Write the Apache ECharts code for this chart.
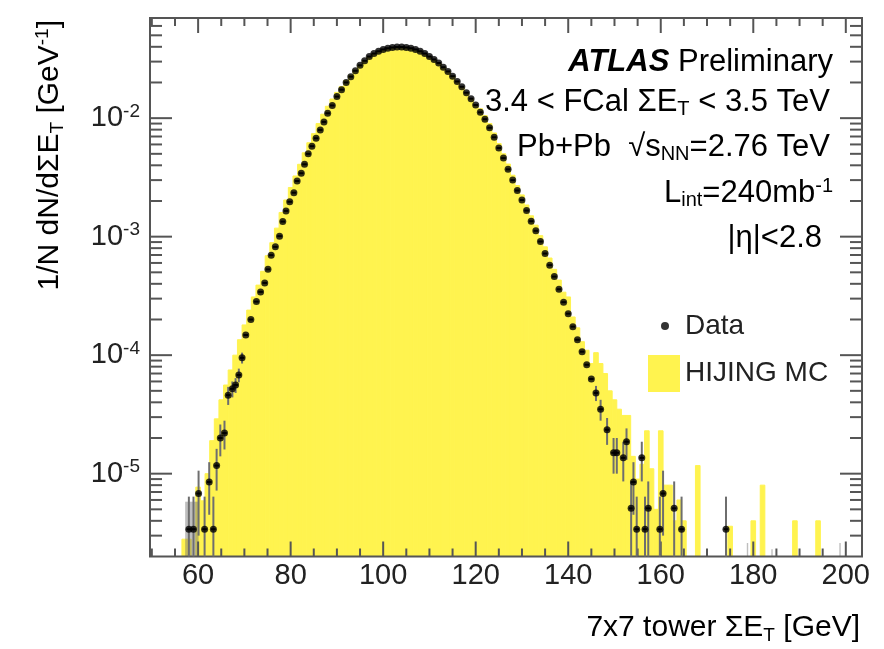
<!DOCTYPE html>
<html><head><meta charset="utf-8">
<script src="https://cdn.jsdelivr.net/npm/echarts@6/dist/echarts.min.js"></script>
<style>html,body{margin:0;padding:0;background:#fff}#c{width:884px;height:649px}</style>
</head><body><div id="c"></div>
<script>
// ---- axis ranges & ticks ----
const xMin = 49.6, xMax = 203.5, yMin = 2e-6, yMax = 0.07;
const xLabels = [60, 80, 100, 120, 140, 160, 180, 200];
const xMinorTicks = [50,55,65,70,75,85,90,95,105,110,115,125,130,135,145,150,155,165,170,175,185,190,195];
const yLabels = [1e-5, 1e-4, 1e-3, 1e-2];
const yMinorTicks = [];
[1e-6,1e-5,1e-4,1e-3,1e-2].forEach(d => { for (let k = 2; k <= 9; k++) { const v = k*d; if (v > yMin && v < yMax) yMinorTicks.push(v); } });
const binW = 1;

// ---- data points ----
const dataX = [58.0,59.0,60.1,61.4,62.4,63.3,64.0,64.8,65.7,66.5,67.4,68.1,68.8,69.5,70.3,71.4,72.6,73.5,74.4,75.1,75.8,76.7,77.6,78.3,79.0,79.8,80.7,81.4,82.3,83.0,83.8,84.6,85.5,86.4,87.2,88.0,89.0,
 90,91,92,93,94,95,96,97,98,99,100,101,102,103,104,105,106,107,108,109,110,111,112,113,114,115,116,117,118,119,120,121,
 122,123,124,125,126,127,128,129,130,131,132,133,134,135,136,137,138,139,140,141,142,143,144,145,146,147,
 148.4,149.8,150.5,151.9,152.6,153.6,154.1,154.8,155.9,156.6,157.3,159.8,160.5,162.9,164.5,174.1];
const dataY = [3.4e-6,3.4e-6,6.8e-6,3.4e-6,8.5e-6,3.4e-6,1.17e-5,2.0e-5,2.2e-5,4.6e-5,5.2e-5,5.6e-5,6.8e-5,9.5e-5,1.48e-4,2.0e-4,2.83e-4,3.42e-4,4.07e-4,5.3e-4,6.98e-4,8.2e-4,1.01e-3,1.34e-3,1.65e-3,1.97e-3,2.35e-3,2.95e-3,3.43e-3,4.08e-3,5.0e-3,5.8e-3,6.77e-3,7.96e-3,9.3e-3,1.1e-2,1.28e-2,
 1.52e-2,1.74e-2,2.0e-2,2.24e-2,2.51e-2,2.79e-2,3.05e-2,3.31e-2,3.51e-2,3.67e-2,3.80e-2,3.89e-2,3.95e-2,3.98e-2,3.98e-2,3.95e-2,3.89e-2,3.80e-2,3.67e-2,3.51e-2,3.31e-2,3.13e-2,2.92e-2,2.69e-2,2.48e-2,2.26e-2,2.04e-2,1.84e-2,1.64e-2,1.46e-2,1.29e-2,1.12e-2,
 9.8e-3,8.3e-3,6.9e-3,5.6e-3,4.6e-3,3.7e-3,3.0e-3,2.45e-3,2.04e-3,1.66e-3,1.35e-3,1.12e-3,9.1e-4,7.2e-4,5.75e-4,4.6e-4,3.6e-4,2.8e-4,2.24e-4,1.74e-4,1.35e-4,1.07e-4,8.3e-5,6.3e-5,4.8e-5,3.5e-5,
 2.35e-5,1.5e-5,1.5e-5,1.36e-5,1.86e-5,5.1e-6,8.5e-6,3.4e-6,1.36e-5,3.4e-6,5.1e-6,3.4e-6,6.8e-6,5.1e-6,3.4e-6,3.4e-6];
const dataErr = [3.0e-6,3.0e-6,3.8e-6,3.0e-6,4.0e-6,3.0e-6,4.5e-6,6e-6,6e-6,8e-6,8e-6,8e-6,9e-6,1e-5,0,0,0,0,0,0,0,0,0,0,0,0,0,0,0,0,0,0,0,0,0,0,0,
 0,0,0,0,0,0,0,0,0,0,0,0,0,0,0,0,0,0,0,0,0,0,0,0,0,0,0,0,0,0,0,0,
 0,0,0,0,0,0,0,0,0,0,0,0,0,0,0,0,0,0,0,0,0,0,0,0,7e-6,7e-6,
 6e-6,5e-6,5e-6,5e-6,5.5e-6,3.5e-6,4e-6,3e-6,5e-6,3e-6,3.5e-6,3e-6,3.8e-6,3.5e-6,3e-6,3e-6];

// ---- HIJING MC histogram (bin centres, heights) ----
const mcX = [57,58,60,61,62,63,64,65,66,67,68,69,70,71,72,73,74,75,76,77,78,79,80,81,82,83,84,85,86,87,88,89,90,91,92,93,94,95,96,
 97,98,99,100,101,102,103,104,105,106,107,108,109,110,111,112,113,114,115,116,117,118,119,120,
 121,122,123,124,125,126,127,128,129,130,131,132,133,134,135,136,137,138,139,140,141,142,143,144,145,146,147,148,149,150,
 151,152,153,154,155,156,157,158,159,160,161,162,163,164,165,168,175,180,182,189,194];
const mcY = [2.8e-6,2.8e-6,7.7e-6,5.9e-6,1.0e-5,1.9e-5,2.9e-5,4.2e-5,5.6e-5,7.5e-5,1.0e-4,1.35e-4,1.8e-4,2.4e-4,3.1e-4,3.9e-4,5.1e-4,6.9e-4,8.9e-4,1.18e-3,1.6e-3,2.04e-3,2.6e-3,3.25e-3,4.08e-3,5.1e-3,6.2e-3,7.4e-3,9.0e-3,1.08e-2,1.26e-2,1.45e-2,1.65e-2,1.85e-2,2.08e-2,2.3e-2,2.55e-2,2.81e-2,3.06e-2,
 3.31e-2,3.51e-2,3.67e-2,3.80e-2,3.89e-2,3.95e-2,3.98e-2,3.98e-2,3.95e-2,3.89e-2,3.80e-2,3.67e-2,3.51e-2,3.31e-2,3.13e-2,2.92e-2,2.69e-2,2.48e-2,2.26e-2,2.04e-2,1.84e-2,1.64e-2,1.46e-2,1.29e-2,
 1.2e-2,1.05e-2,9.0e-3,7.5e-3,6.1e-3,5.0e-3,4.1e-3,3.3e-3,2.7e-3,2.25e-3,1.85e-3,1.5e-3,1.25e-3,1.02e-3,8.2e-4,6.6e-4,5.3e-4,4.3e-4,3.4e-4,3.1e-4,2.1e-4,1.7e-4,1.3e-4,1.1e-4,8.5e-5,1.05e-4,8.5e-5,7.0e-5,5.0e-5,4.2e-5,
 3.5e-5,3.1e-5,3.1e-5,1.4e-5,9e-6,1.2e-5,2.3e-5,1.1e-5,5e-6,2.3e-5,8e-6,8e-6,4e-6,6e-6,4e-6,1.17e-5,3.6e-6,4e-6,8e-6,4e-6,4e-6];

// ---- grey uncertainty marks ----
const bandLo = [57.2, 178.6, 183.9, 198.6];
const bandHi = [60.1, 178.9, 184.2, 198.9];
const bandTop = [5.8e-6, 2.6e-6, 2.3e-6, 2.6e-6];

const F = 'Liberation Sans';
const TC = '#222';
const AX = '#555';
const MCC = '#fff34f';

const rich = {
  n: {fontSize: 31, fontFamily: F, color: TC, lineHeight: 34},
  b: {fontSize: 31, fontFamily: F, color: '#111', fontWeight: 'bold', fontStyle: 'italic', lineHeight: 34},
  sub: {fontSize: 20, fontFamily: F, color: TC, verticalAlign: 'bottom', lineHeight: 12},
  sup: {fontSize: 20, fontFamily: F, color: TC, verticalAlign: 'top', lineHeight: 12}
};
const richAxis = {
  n: {fontSize: 30, fontFamily: F, color: TC, lineHeight: 34},
  sub: {fontSize: 19, fontFamily: F, color: TC, verticalAlign: 'bottom', lineHeight: 12},
  sup: {fontSize: 19, fontFamily: F, color: TC, verticalAlign: 'top', lineHeight: 12}
};

const tickData = [];
xLabels.forEach(v => tickData.push([v, yMin, 0]));
xMinorTicks.forEach(v => tickData.push([v, yMin, 1]));
yLabels.forEach(v => tickData.push([xMin, v, 2]));
yMinorTicks.forEach(v => tickData.push([xMin, v, 3]));

const chart = echarts.init(document.getElementById('c'), null, {renderer: 'canvas'});
chart.setOption({
  animation: false,
  backgroundColor: '#fff',
  grid: {left: 150, top: 18, width: 712, height: 538.5, show: true, borderColor: AX, borderWidth: 2, backgroundColor: 'transparent', z: 10},
  xAxis: {
    type: 'value', min: xMin, max: xMax, splitNumber: 8, minInterval: 10, maxInterval: 20,
    axisLine: {show: false}, axisTick: {show: false}, splitLine: {show: false},
    axisLabel: {customValues: xLabels, margin: 5, fontSize: 29, fontFamily: F, color: TC,
      formatter: v => (Math.abs(v % 20) < 1e-6 ? String(Math.round(v)) : '')}
  },
  yAxis: {
    type: 'log', logBase: 10, min: yMin, max: yMax,
    axisLine: {show: false}, axisTick: {show: false}, splitLine: {show: false},
    axisLabel: {customValues: yLabels, margin: 10,
      formatter: v => { const e = Math.log10(v); const r = Math.round(e); return Math.abs(e - r) < 1e-6 ? '{a|10}{e|' + r + '}' : ''; },
      rich: {a: {fontSize: 29, fontFamily: F, color: TC, lineHeight: 32}, e: {fontSize: 19, fontFamily: F, color: TC, verticalAlign: 'top', lineHeight: 12}}}
  },
  legend: [
    {data: [{name: 'Data', icon: 'circle'}], orient: 'vertical', left: 656, top: 307, itemWidth: 30, itemHeight: 8, selectedMode: false,
      textStyle: {fontSize: 28, fontFamily: F, color: TC}},
    {data: [{name: 'HIJING MC', icon: 'rect'}], orient: 'vertical', left: 643, top: 350, itemWidth: 32, itemHeight: 37, selectedMode: false,
      textStyle: {fontSize: 28, fontFamily: F, color: TC}}
  ],
  graphic: [
    {type: 'text', x: 833, y: 62, z: 100, style: {text: '{b|ATLAS }{n|Preliminary}', rich: rich, align: 'right', verticalAlign: 'middle'}},
    {type: 'text', x: 830, y: 102, z: 100, style: {text: '{n|3.4 < FCal ΣE}{sub|T}{n| < 3.5 TeV}', rich: rich, align: 'right', verticalAlign: 'middle'}},
    {type: 'text', x: 830, y: 147, z: 100, style: {text: '{n|Pb+Pb  √s}{sub|NN}{n|=2.76 TeV}', rich: rich, align: 'right', verticalAlign: 'middle'}},
    {type: 'text', x: 833, y: 193, z: 100, style: {text: '{n|L}{sub|int}{n|=240mb}{sup|-1}', rich: rich, align: 'right', verticalAlign: 'middle'}},
    {type: 'text', x: 822, y: 238, z: 100, style: {text: '{n||η|<2.8}', rich: rich, align: 'right', verticalAlign: 'middle'}},
    {type: 'text', x: 860, y: 628, z: 100, style: {text: '{n|7x7 tower ΣE}{sub|T}{n| [GeV]}', rich: richAxis, align: 'right', verticalAlign: 'middle'}},
    {type: 'text', x: 50, y: 20, rotation: Math.PI / 2, z: 100, style: {text: '{n|1/N dN/dΣE}{sub|T}{n| [GeV}{sup|-1}{n|]}', rich: richAxis, align: 'right', verticalAlign: 'middle'}}
  ],
  series: [
    {
      name: 'HIJING MC', type: 'custom', z: 1, clip: true,
      itemStyle: {color: MCC},
      data: mcX.map((c, i) => [c, mcY[i]]),
      encode: {x: 0, y: 1},
      renderItem: (params, api) => {
        const c = api.value(0), v = api.value(1);
        const p1 = api.coord([c - binW / 2, v]), p2 = api.coord([c + binW / 2, yMin]);
        return {type: 'rect', shape: {x: p1[0], y: p1[1], width: p2[0] - p1[0], height: p2[1] - p1[1]},
          style: {fill: MCC, stroke: MCC, lineWidth: 1}};
      }
    },
    {
      type: 'custom', z: 3, silent: true,
      data: bandLo.map((lo, i) => [lo, bandTop[i], bandHi[i]]),
      encode: {x: 0, y: 1},
      renderItem: (params, api) => {
        const p1 = api.coord([api.value(0), api.value(1)]), p2 = api.coord([api.value(2), yMin]);
        return {type: 'rect', shape: {x: p1[0], y: p1[1], width: p2[0] - p1[0], height: p2[1] - p1[1]},
          style: {fill: 'rgba(110,110,110,0.45)'}};
      }
    },
    {
      type: 'custom', z: 12, silent: true, clip: false,
      data: tickData, encode: {x: 0, y: 1},
      renderItem: (params, api) => {
        const kind = api.value(2);
        const st = {stroke: AX, lineWidth: 2};
        if (kind < 2) {
          const x = api.value(0);
          const b = api.coord([x, yMin]), t = api.coord([x, yMax]);
          const L = kind === 0 ? 15 : 8;
          return {type: 'group', children: [
            {type: 'line', shape: {x1: b[0], y1: b[1], x2: b[0], y2: b[1] - L}, style: st},
            {type: 'line', shape: {x1: t[0], y1: t[1], x2: t[0], y2: t[1] + L}, style: st}]};
        }
        const y = api.value(1);
        const l = api.coord([xMin, y]), r = api.coord([xMax, y]);
        const L = kind === 2 ? 22 : 12;
        return {type: 'group', children: [
          {type: 'line', shape: {x1: l[0], y1: l[1], x2: l[0] + L, y2: l[1]}, style: st},
          {type: 'line', shape: {x1: r[0], y1: r[1], x2: r[0] - L, y2: r[1]}, style: st}]};
      }
    },
    {
      type: 'custom', z: 13, silent: true,
      data: dataX.map((x, i) => [x, dataY[i], dataErr[i]]),
      encode: {x: 0, y: 1},
      renderItem: (params, api) => {
        const x = api.value(0), y = api.value(1), e = api.value(2);
        const ch = [];
        if (e > 0) {
          const pLo = api.coord([x, Math.max(y - e, yMin)]), pHi = api.coord([x, y + e]);
          ch.push({type: 'line', shape: {x1: pLo[0], y1: pLo[1], x2: pHi[0], y2: pHi[1]}, style: {stroke: '#6e6e6e', lineWidth: 2}});
        }
        const pl = api.coord([x - binW / 2, y]), pr = api.coord([x + binW / 2, y]);
        ch.push({type: 'line', shape: {x1: pl[0], y1: pl[1], x2: pr[0], y2: pr[1]}, style: {stroke: '#000', lineWidth: 2}});
        return {type: 'group', children: ch};
      }
    },
    {
      name: 'Data', type: 'scatter', z: 14, symbol: 'circle', symbolSize: 7,
      itemStyle: {color: '#000'},
      data: dataX.map((x, i) => [x, dataY[i]])
    }
  ]
});
</script></body></html>
